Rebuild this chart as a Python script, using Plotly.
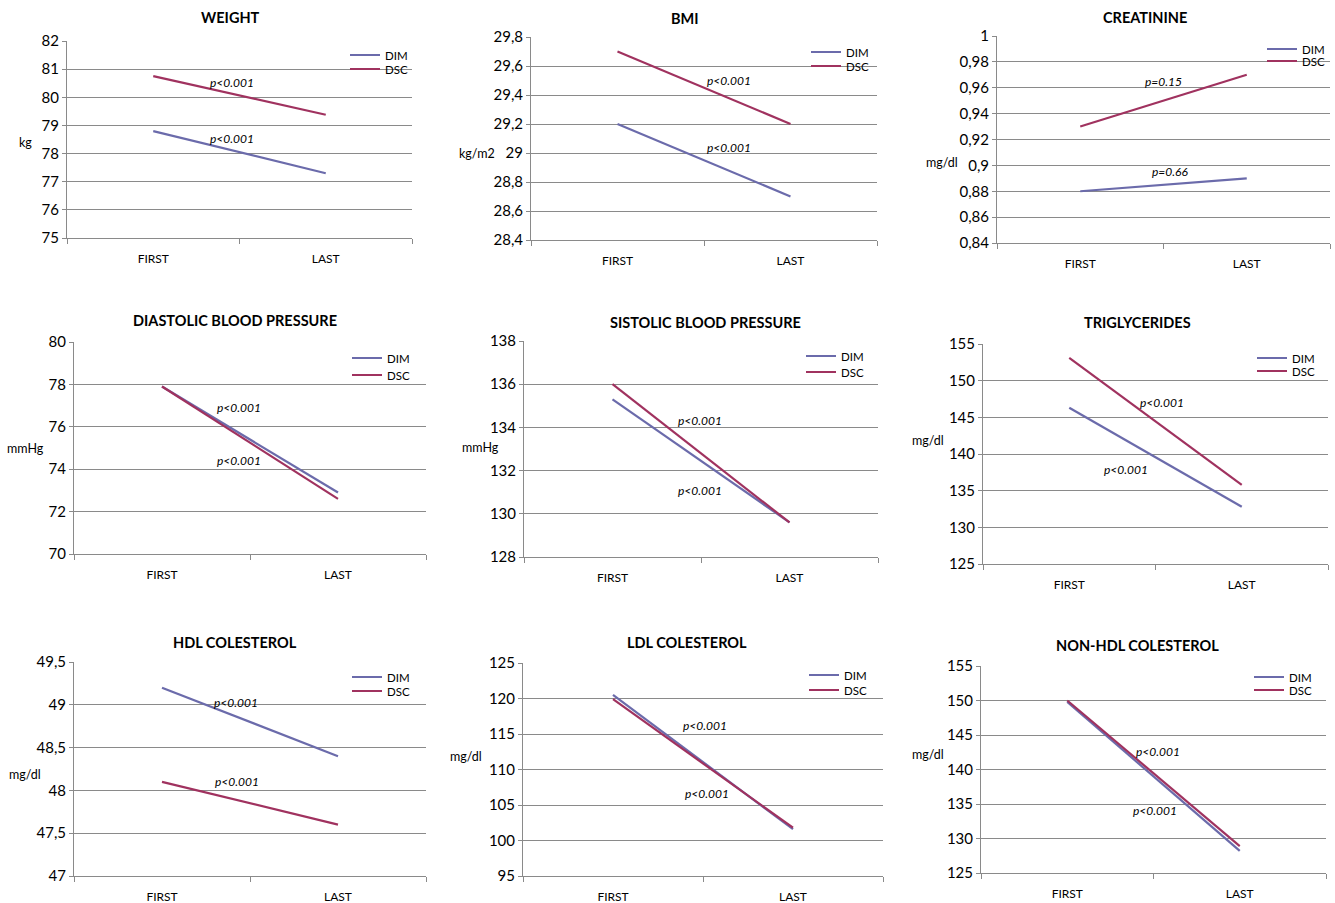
import plotly.graph_objects as go

W, H = 1335, 903
FONT = "Lato, 'Open Sans', sans-serif"
DIM_COLOR = "#6b6bab"
DSC_COLOR = "#a0325f"
GRID = "#8a8a8a"

categories = ["FIRST", "LAST"]
series_names = ["DIM", "DSC"]

titles = ["WEIGHT", "BMI", "CREATININE",
          "DIASTOLIC BLOOD PRESSURE", "SISTOLIC BLOOD PRESSURE", "TRIGLYCERIDES",
          "HDL COLESTEROL", "LDL COLESTEROL", "NON-HDL COLESTEROL"]
units = ["kg", "kg/m2", "mg/dl", "mmHg", "mmHg", "mg/dl", "mg/dl", "mg/dl", "mg/dl"]

weight_dim = [78.8, 77.3]
weight_dsc = [80.75, 79.38]
bmi_dim = [29.2, 28.7]
bmi_dsc = [29.7, 29.2]
creat_dim = [0.88, 0.89]
creat_dsc = [0.93, 0.97]
dbp_dim = [77.9, 72.9]
dbp_dsc = [77.9, 72.6]
sbp_dim = [135.3, 129.6]
sbp_dsc = [136.0, 129.6]
trig_dim = [146.3, 132.8]
trig_dsc = [153.1, 135.8]
hdl_dim = [49.2, 48.4]
hdl_dsc = [48.1, 47.6]
ldl_dim = [120.5, 101.6]
ldl_dsc = [119.9, 101.8]
nonhdl_dim = [149.8, 128.2]
nonhdl_dsc = [150.0, 128.9]

dim_values = [weight_dim, bmi_dim, creat_dim, dbp_dim, sbp_dim, trig_dim, hdl_dim, ldl_dim, nonhdl_dim]
dsc_values = [weight_dsc, bmi_dsc, creat_dsc, dbp_dsc, sbp_dsc, trig_dsc, hdl_dsc, ldl_dsc, nonhdl_dsc]

ytick_vals = [
    [75, 76, 77, 78, 79, 80, 81, 82],
    [28.4, 28.6, 28.8, 29.0, 29.2, 29.4, 29.6, 29.8],
    [0.84, 0.86, 0.88, 0.90, 0.92, 0.94, 0.96, 0.98, 1.0],
    [70, 72, 74, 76, 78, 80],
    [128, 130, 132, 134, 136, 138],
    [125, 130, 135, 140, 145, 150, 155],
    [47, 47.5, 48, 48.5, 49, 49.5],
    [95, 100, 105, 110, 115, 120, 125],
    [125, 130, 135, 140, 145, 150, 155],
]
ytick_text = [
    ["75", "76", "77", "78", "79", "80", "81", "82"],
    ["28,4", "28,6", "28,8", "29", "29,2", "29,4", "29,6", "29,8"],
    ["0,84", "0,86", "0,88", "0,9", "0,92", "0,94", "0,96", "0,98", "1"],
    ["70", "72", "74", "76", "78", "80"],
    ["128", "130", "132", "134", "136", "138"],
    ["125", "130", "135", "140", "145", "150", "155"],
    ["47", "47,5", "48", "48,5", "49", "49,5"],
    ["95", "100", "105", "110", "115", "120", "125"],
    ["125", "130", "135", "140", "145", "150", "155"],
]

# p-value labels: (text, x, y) for upper and lower
p_labels = [
    [("p<0.001", 0.457, 80.51), ("p<0.001", 0.457, 78.52)],
    [("p<0.001", 0.645, 29.497), ("p<0.001", 0.645, 29.041)],
    [("p=0.15", 0.497, 0.9652), ("p=0.66", 0.539, 0.8949)],
    [("p<0.001", 0.4375, 76.93), ("p<0.001", 0.4375, 74.43)],
    [("p<0.001", 0.494, 134.30), ("p<0.001", 0.494, 131.06)],
    [("p<0.001", 0.538, 147.09), ("p<0.001", 0.329, 137.82)],
    [("p<0.001", 0.420, 49.03), ("p<0.001", 0.425, 48.10)],
    [("p<0.001", 0.511, 116.13), ("p<0.001", 0.522, 106.69)],
    [("p<0.001", 0.526, 142.54), ("p<0.001", 0.509, 134.13)],
]

# layout geometry in pixels: plot box (x0, x1, ytop, ybottom)
boxes = [
    (67, 412, 41, 238), (531, 877, 37, 240), (997, 1330, 36, 243),
    (74, 426, 342, 554), (524, 878, 341, 557), (983, 1328, 344, 564),
    (74, 426, 662, 876), (523, 883, 663, 876), (981, 1326, 666, 873),
]
title_pos = [(230, 17), (685, 18), (1145, 17), (235, 320), (705, 323), (1137, 323),
             (235, 642), (687, 642), (1137, 645)]
unit_pos = [(25, 143), (477, 153), (942, 162), (25, 449), (480, 447), (928, 440),
            (25, 774), (466, 756), (928, 754)]
# legend line start x, DIM row y, DSC row y
legend_pos = [(351, 55, 69), (812, 52, 66), (1268, 49, 61), (353, 358, 375), (807, 356, 372),
              (1258, 358, 371), (353, 677, 691), (810, 675, 690), (1255, 677, 690)]

fig = go.Figure()
layout = dict(
    template="none",
    width=W, height=H, margin=dict(l=0, r=0, t=0, b=0, autoexpand=False),
    paper_bgcolor="white", plot_bgcolor="white",
    font=dict(family=FONT, color="#000000"),
    showlegend=True,
)
annotations = []

for i in range(9):
    n = "" if i == 0 else str(i + 1)
    x0, x1, yt, yb = boxes[i]
    xa = "xaxis" + n
    ya = "yaxis" + n
    xref = "x" + n
    yref = "y" + n
    lx, ly_dim, ly_dsc = legend_pos[i]
    for k, (name, vals, col, ly) in enumerate([("DIM", dim_values[i], DIM_COLOR, ly_dim),
                                               ("DSC", dsc_values[i], DSC_COLOR, ly_dsc)]):
        idx = 2 * i + k + 1
        lg = "legend" if idx == 1 else "legend" + str(idx)
        fig.add_trace(go.Scatter(
            x=[0, 1], y=vals, mode="lines", name=name,
            line=dict(color=col, width=2.2),
            xaxis=xref, yaxis=yref, legend=lg, hoverinfo="skip",
        ))
        layout[lg] = dict(
            x=(lx - 6) / W, y=1 - ly / H, xanchor="left", yanchor="middle",
            bgcolor="rgba(0,0,0,0)", font=dict(size=11.5, family=FONT),
            borderwidth=0, itemwidth=30,
        )
    yv = ytick_vals[i]
    layout[xa] = dict(
        domain=[x0 / W, x1 / W], anchor=yref, range=[-0.5, 1.5], automargin=False,
        tickmode="array", tickvals=[0, 1], ticktext=categories,
        ticks="", showgrid=False, zeroline=False,
        showline=True, linecolor=GRID, linewidth=1,
        tickfont=dict(size=12, family=FONT), ticklabelstandoff=10,
        minor=dict(tickmode="array", tickvals=[-0.5, 0.5, 1.5], ticks="outside",
                   ticklen=5, tickcolor=GRID, showgrid=False),
        fixedrange=True,
    )
    layout[ya] = dict(
        domain=[1 - yb / H, 1 - yt / H], anchor=xref, range=[yv[0], yv[-1]], automargin=False,
        tickmode="array", tickvals=yv, ticktext=ytick_text[i],
        ticks="outside", ticklen=4, tickcolor=GRID,
        showgrid=True, gridcolor=GRID, gridwidth=1, zeroline=False,
        showline=True, linecolor=GRID, linewidth=1,
        tickfont=dict(size=15, family=FONT), fixedrange=True,
    )
    tx, ty = title_pos[i]
    annotations.append(dict(
        text="<b>" + titles[i] + "</b>", x=tx / W, y=1 - ty / H, xref="paper", yref="paper",
        showarrow=False, xanchor="center", yanchor="middle",
        font=dict(size=14.5, family=FONT),
    ))
    ux, uy = unit_pos[i]
    annotations.append(dict(
        text=units[i], x=ux / W, y=1 - uy / H, xref="paper", yref="paper",
        showarrow=False, xanchor="center", yanchor="middle",
        font=dict(size=12.5, family=FONT),
    ))
    for txt, px, py in p_labels[i]:
        annotations.append(dict(
            text="<i>" + txt + "</i>", x=px, y=py, xref=xref, yref=yref,
            showarrow=False, xanchor="center", yanchor="middle",
            font=dict(size=12, family=FONT),
        ))

layout["annotations"] = annotations
fig.update_layout(**layout)

post = (
    "var gd=document.getElementById('{plot_id}');"
    "gd.style.position='fixed';gd.style.left='0px';gd.style.top='0px';"
    "document.documentElement.style.margin='0';document.documentElement.style.padding='0';"
    "document.documentElement.style.overflow='hidden';"
    "document.body.style.margin='0';document.body.style.padding='0';"
    "document.body.style.overflow='hidden';document.body.style.height='903px';"
)
fig.write_html(
    "out.html",
    config={"responsive": False, "displayModeBar": False},
    post_script=post,
)
